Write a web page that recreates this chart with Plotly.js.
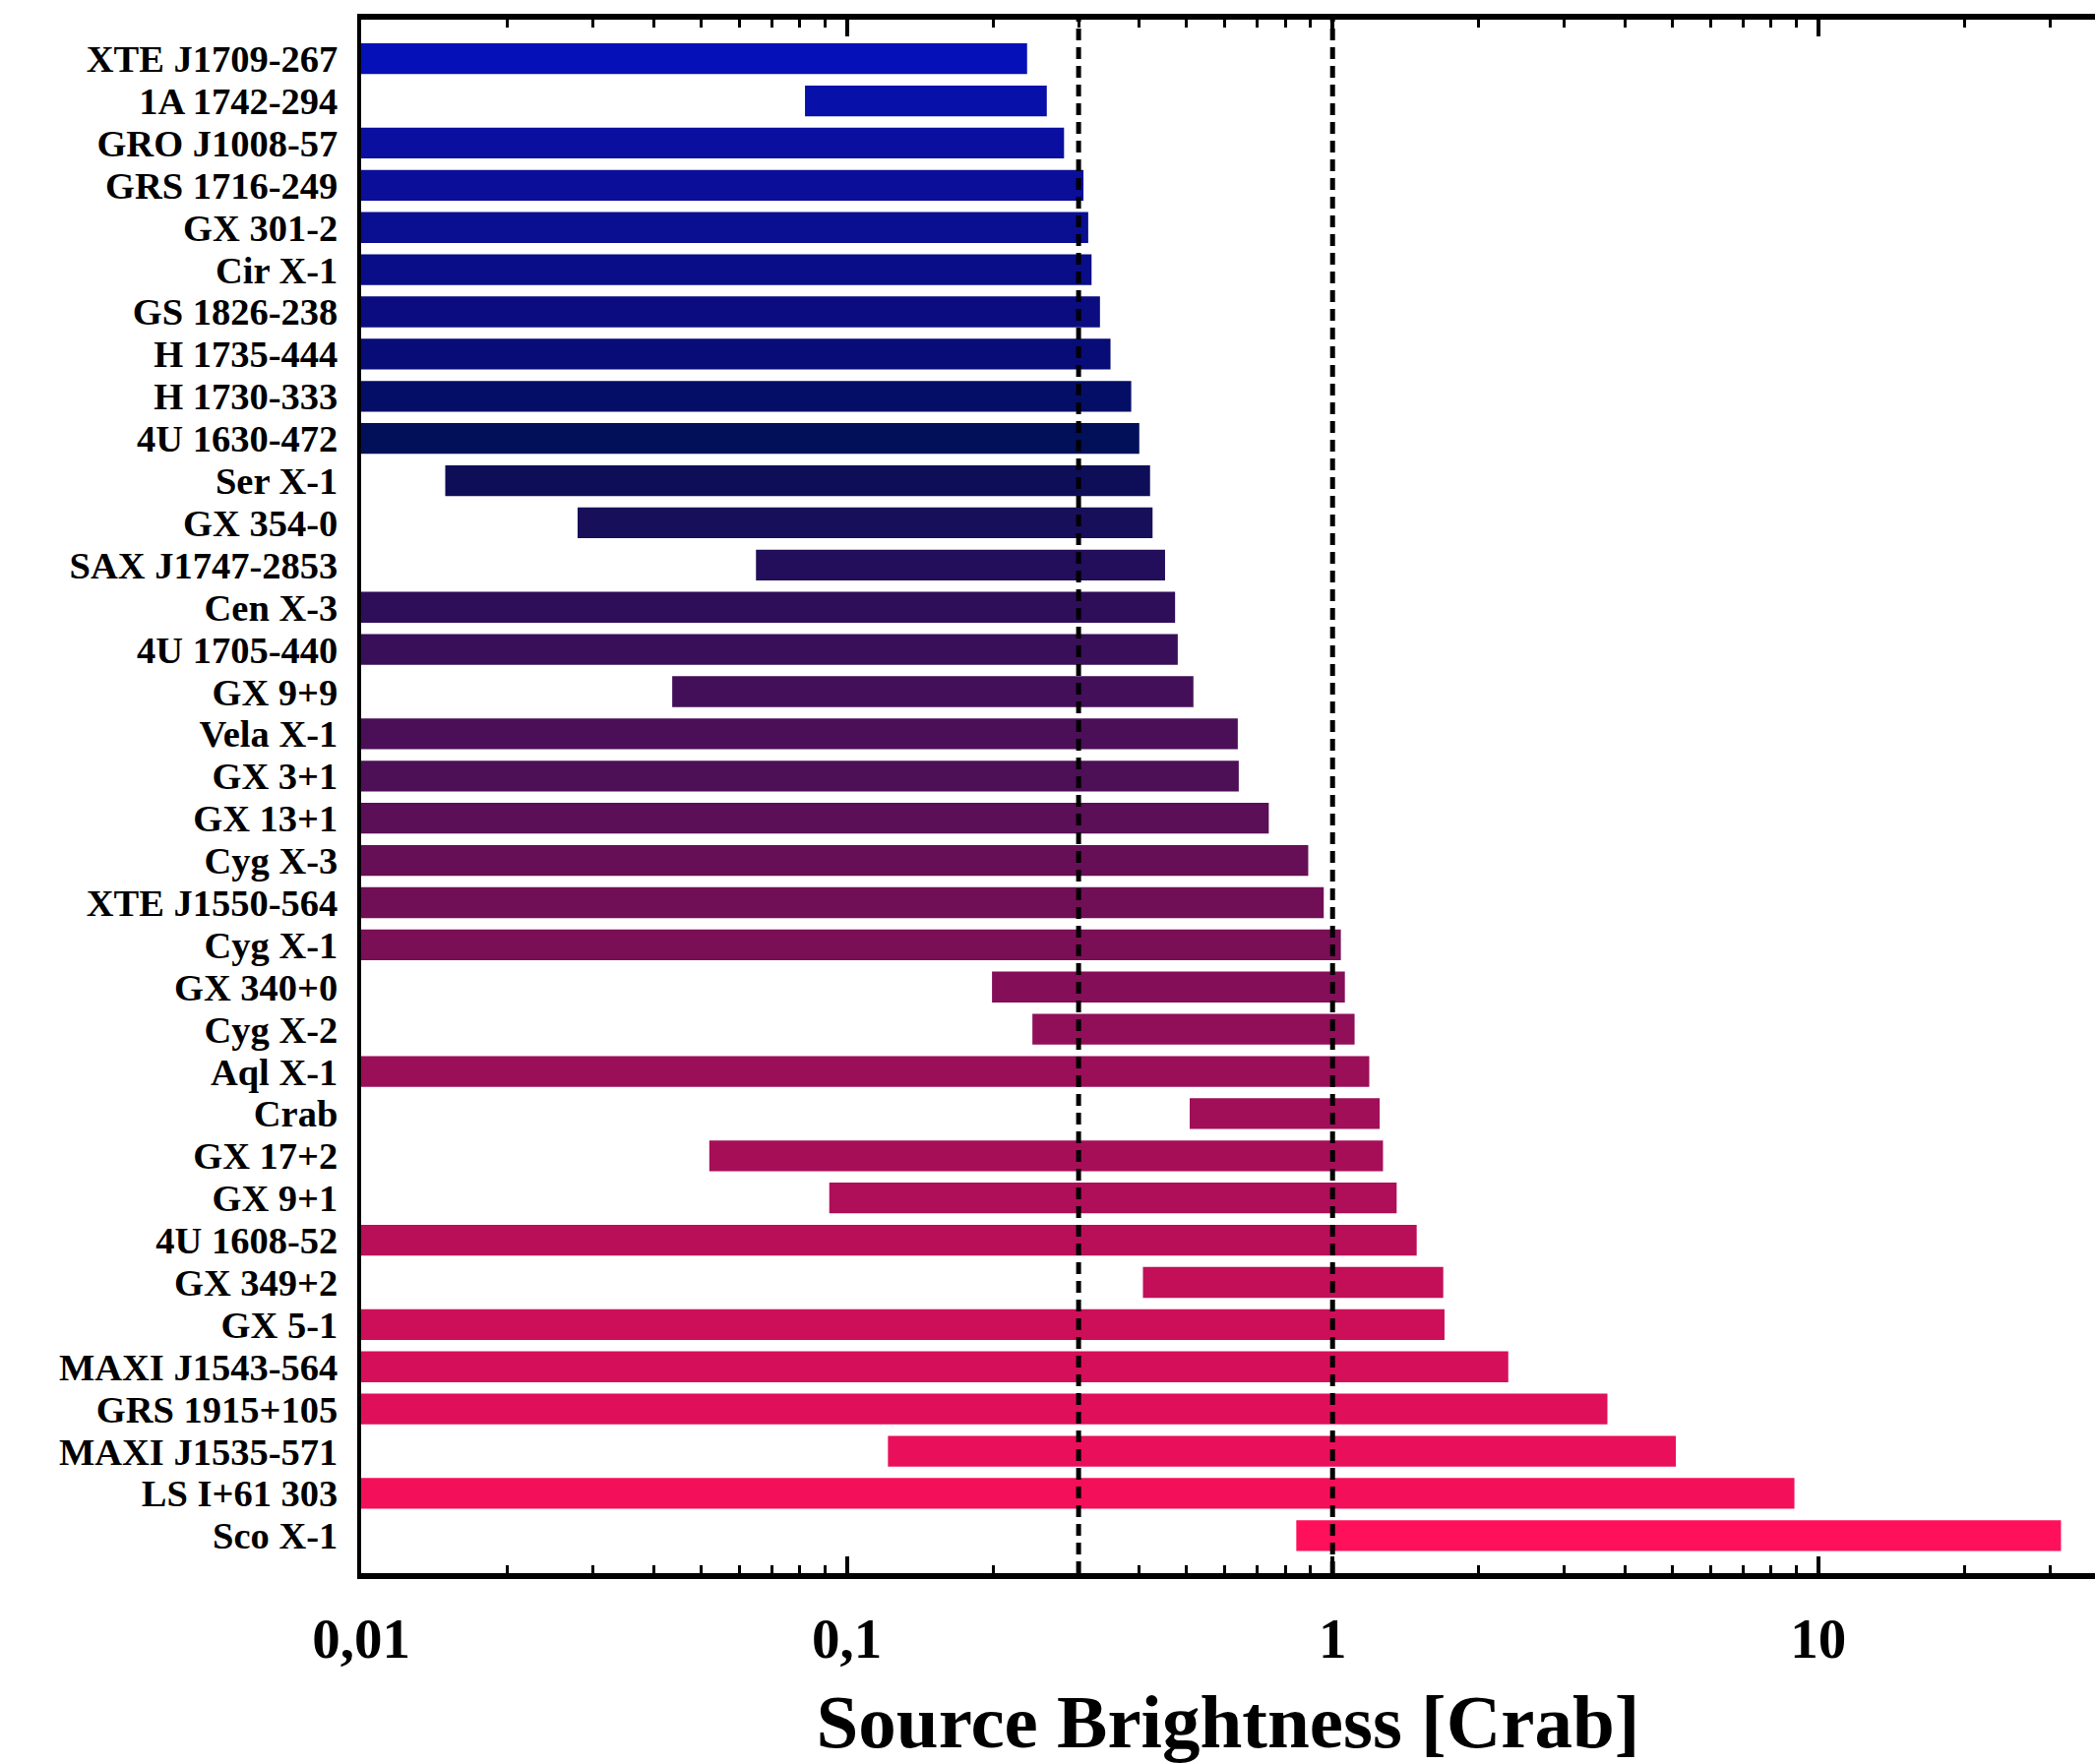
<!DOCTYPE html>
<html>
<head>
<meta charset="utf-8">
<script src="https://cdn.plot.ly/plotly-3.0.1.min.js"></script>
<style>html,body{margin:0;padding:0;background:#fff;}</style>
</head>
<body>
<div id="chart" style="width:2129px;height:1793px;"></div>
<script>
// ---- data ----
const sources = [
  'XTE J1709-267','1A 1742-294','GRO J1008-57','GRS 1716-249','GX 301-2','Cir X-1',
  'GS 1826-238','H 1735-444','H 1730-333','4U 1630-472','Ser X-1','GX 354-0',
  'SAX J1747-2853','Cen X-3','4U 1705-440','GX 9+9','Vela X-1','GX 3+1',
  'GX 13+1','Cyg X-3','XTE J1550-564','Cyg X-1','GX 340+0','Cyg X-2',
  'Aql X-1','Crab','GX 17+2','GX 9+1','4U 1608-52','GX 349+2',
  'GX 5-1','MAXI J1543-564','GRS 1915+105','MAXI J1535-571','LS I+61 303','Sco X-1'
];
const minBrightness = [
  0.01, 0.082, 0.01, 0.01, 0.01, 0.01,
  0.01, 0.01, 0.01, 0.01, 0.0149, 0.0279,
  0.065, 0.01, 0.01, 0.0437, 0.01, 0.01,
  0.01, 0.01, 0.01, 0.01, 0.199, 0.241,
  0.01, 0.508, 0.0521, 0.092, 0.01, 0.407,
  0.01, 0.01, 0.01, 0.1215, 0.01, 0.842
];
const maxBrightness = [
  0.235, 0.258, 0.280, 0.307, 0.314, 0.319,
  0.332, 0.349, 0.385, 0.400, 0.421, 0.426,
  0.452, 0.474, 0.480, 0.517, 0.638, 0.641,
  0.739, 0.891, 0.959, 1.04, 1.06, 1.11,
  1.19, 1.25, 1.27, 1.355, 1.49, 1.69,
  1.70, 2.30, 3.68, 5.09, 8.93, 31.6
];
const barColors = [
  '#0610B8','#0810AA','#0A0FA0','#0A0E98','#0A0E90','#0A0D88',
  '#0A0C80','#080C76','#050E66','#02105A','#0E0E58','#180F5A',
  '#220E5A','#2E0E58','#380F58','#420F58','#4A0F56','#4D0F56',
  '#5A0F56','#660F56','#700F56','#7A0F56','#840F58','#900F58',
  '#9A0F58','#A00F58','#A60F58','#AE0F58','#B80F58','#C20F58',
  '#CC0F58','#D60F5A','#E00F5A','#EA0F5A','#F40F5A','#FF105A'
];
const tickValues = [0.01, 0.1, 1, 10];
const tickLabels = ['0,01', '0,1', '1', '10'];
const referenceLevels = [0.3, 1];

// minor tick positions (2..9 in each decade)
const minorTicks = [];
for (let d = -2; d <= 1; d++) {
  for (let m = 2; m <= 9; m++) {
    const v = m * Math.pow(10, d);
    if (v < 37) minorTicks.push(v);
  }
}

const FONT = 'Liberation Serif, Times New Roman, serif';

const trace = {
  type: 'bar',
  orientation: 'h',
  y: sources,
  base: minBrightness,
  x: maxBrightness.map((v, i) => v - minBrightness[i]),
  marker: { color: barColors, line: { width: 0 } },
  hoverinfo: 'skip'
};

const layout = {
  width: 2129,
  height: 1793,
  margin: { l: 367, r: 0, t: 20, b: 194, pad: 0 },
  paper_bgcolor: '#ffffff',
  plot_bgcolor: '#ffffff',
  showlegend: false,
  bargap: 0.27,
  font: { family: FONT, color: '#000000', weight: 'bold' },
  xaxis: {
    type: 'log',
    range: [-2, 1.5697],
    tickmode: 'array',
    tickvals: tickValues,
    ticktext: tickLabels,
    ticks: 'inside',
    ticklen: 17,
    tickwidth: 4,
    tickcolor: '#000000',
    showline: true,
    linewidth: 6,
    linecolor: '#000000',
    mirror: 'allticks',
    showgrid: false,
    zeroline: false,
    automargin: false,
    ticklabelstandoff: 12,
    tickfont: { family: FONT, size: 57, weight: 'bold', color: '#000000' },
    minor: {
      tickmode: 'array',
      tickvals: minorTicks,
      ticks: 'inside',
      ticklen: 8,
      tickwidth: 3,
      tickcolor: '#000000',
      showgrid: false
    },
    title: {
      text: 'Source Brightness [Crab]',
      font: { family: FONT, size: 77, weight: 'bold', color: '#000000' },
      standoff: 45
    }
  },
  yaxis: {
    type: 'category',
    categoryorder: 'array',
    categoryarray: sources,
    tickmode: 'linear',
    tick0: 0,
    dtick: 1,
    range: [35.89, -0.925],
    showline: true,
    linewidth: 4,
    linecolor: '#000000',
    ticks: '',
    showgrid: false,
    zeroline: false,
    automargin: false,
    ticklabelstandoff: 12,
    tickfont: { family: FONT, size: 38.5, weight: 'bold', color: '#000000' }
  },
  shapes: referenceLevels.map(v => ({
    type: 'line', xref: 'x', yref: 'paper',
    x0: v, x1: v, y0: 0, y1: 1,
    layer: 'above',
    line: { color: '#000000', width: 5, dash: '12px,7px' }
  }))
};

Plotly.newPlot('chart', [trace], layout, { displayModeBar: false, staticPlot: true });
</script>
</body>
</html>
